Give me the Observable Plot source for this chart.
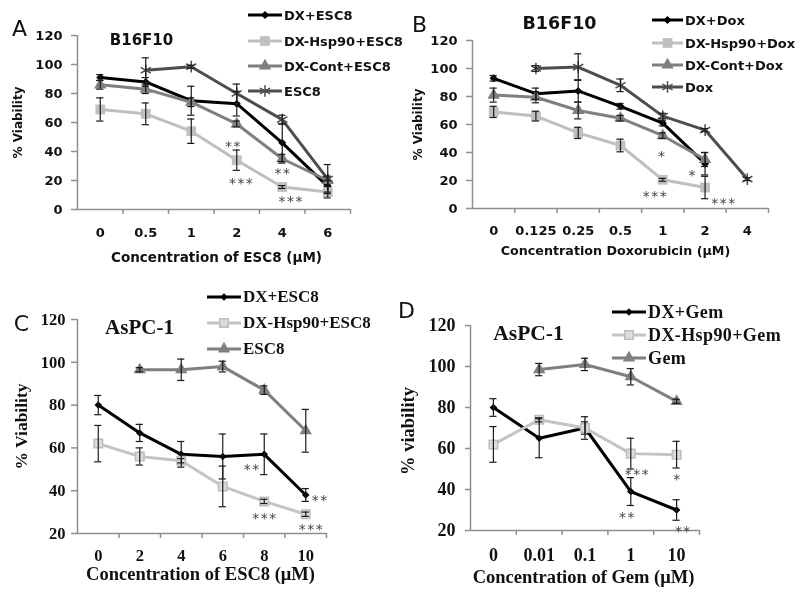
<!DOCTYPE html>
<html><head><meta charset="utf-8">
<script src="https://cdn.jsdelivr.net/npm/d3@7"></script>
<script src="https://cdn.jsdelivr.net/npm/@observablehq/plot@0.6"></script>
<style>
body{margin:0;background:#fff;}
#fig{position:relative;width:800px;height:598px;overflow:hidden;background:#fff;}
.leg{position:absolute;display:flex;align-items:center;white-space:nowrap;color:#111;height:20px;}
.leg svg{display:block;}
</style></head><body><div id="fig"></div>
<script>
// ---------- Panel A : B16F10, ESC8 ----------
const catsA = ["0","0.5","1","2","4","6"];
const dxEsc8A = [91, 88, 75, 73, 46, 16];
const dxEsc8ErrA = [2, 3, 10, 8.5, 13, 4];
const hspEsc8A = [69, 66, 54, 34, 15.5, 12];
const hspEsc8ErrA = [8, 7.5, 8.4, 7, 1, 4];
const contEsc8A = [86, 83, 74, 59, 35, 20];
const contEsc8ErrA = [3, 3, 3, 2, 3, 3];
const esc8A = [null, 96, 98.5, 80, 62, 21];
const esc8ErrA = [null, 8.6, 1, 6.5, 3, 10];
const starsA = [{x:"2", off:-0.09, y:46, t:"**"}, {x:"2", off:0.09, y:21, t:"***"},
                {x:"4", off:0, y:27.6, t:"**"}, {x:"4", off:0.18, y:8.3, t:"***"}];

// ---------- Panel B : B16F10, Doxorubicin ----------
const catsB = ["0","0.125","0.25","0.5","1","2","4"];
const dxDoxB = [93, 82, 84, 73, 61, 32, null];
const dxDoxErrB = [2, 4, 8, 2, 2, 8, null];
const hspDoxB = [69, 66, 54, 45, 20.5, 15, null];
const hspDoxErrB = [4, 3.5, 4, 4.5, 1, 8, null];
const contDoxB = [81, 79.5, 70, 64.5, 52, 35, null];
const contDoxErrB = [5, 4, 6, 2, 2, 5, null];
const doxB = [null, 100, 101, 88, 66, 56, 21];
const doxErrB = [null, 2, 9.5, 4.5, 2, 1, 1];
const starsB = [{x:"1", off:-0.03, y:40, t:"*"}, {x:"1", off:-0.19, y:11.6, t:"***"},
                {x:"2", off:-0.31, y:26.4, t:"*"}, {x:"2", off:0.43, y:6.4, t:"***"}];

// ---------- Panel C : AsPC-1, ESC8 ----------
const catsC = ["0","2","4","6","8","10"];
const dxEsc8C = [80, 67, 57, 56, 57, 38];
const dxEsc8ErrC = [4.5, 4, 6, 10.5, 9.5, 3];
const hspEsc8C = [62, 56, 54, 42, 35, 29];
const hspEsc8ErrC = [8.5, 4, 1, 9.5, 1, 1];
const esc8C = [null, 96.5, 96.5, 98, 87, 68];
const esc8ErrC = [null, 1, 5, 2.5, 2, 10];
const starsC = [{x:"8", off:-0.31, y:52, t:"**"}, {x:"8", off:0, y:28.7, t:"***"},
                {x:"10", off:0.33, y:37.3, t:"**"}, {x:"10", off:0.12, y:23.6, t:"***"}];

// ---------- Panel D : AsPC-1, Gem ----------
const catsD = ["0","0.01","0.1","1","10"];
const dxGemD = [80, 65, 70, 39, 30];
const dxGemErrD = [4.3, 9.5, 5.5, 6.8, 5];
const hspGemD = [62, 74, 70, 57.5, 57];
const hspGemErrD = [8.7, 1, 3, 7.5, 6.5];
const gemD = [null, 98.5, 101, 95, 83];
const gemErrD = [null, 3, 3, 4, 1];
const starsD = [{x:"1", off:0.13, y:49.3, t:"***"}, {x:"1", off:-0.09, y:28.3, t:"**"},
                {x:"10", off:0, y:46.8, t:"*"}, {x:"10", off:0.13, y:21.6, t:"**"}];

const ticksAB = [0,20,40,60,80,100,120];
const ticksCD = [20,40,60,80,100,120];

const AXIS = "#8f8f8f";
const SANS = "DejaVu Sans";
const SERIF = "Liberation Serif";
const STARFONT = "DejaVu Sans Mono";
const fig = document.getElementById("fig");
const symMap = {diamond2: d3.symbolDiamond2, square: d3.symbolSquare, triangle: d3.symbolTriangle, asterisk: d3.symbolAsterisk};

function makePanel(p) {
  const n = p.cats.length;
  const rows = [];
  p.series.forEach(s => s.values.forEach((v, i) => {
    if (v != null) rows.push({s: s.name, x: i + 0.5, y: v, e: s.errors[i]});
  }));
  const plotW = p.width - p.ml - p.mr;
  const cw = 3.6 / (plotW / n);
  const marks = [
    Plot.ruleX([0], {stroke: AXIS, strokeWidth: 1.5}),
    Plot.ruleY([p.yDomain[0]], {stroke: AXIS, strokeWidth: 1.5}),
    Plot.axisY({ticks: p.yTicks, tickSize: p.yTickSize, tickPadding: p.yTickPad, stroke: AXIS, strokeWidth: 1.5,
                fill: "#111", fontSize: p.tickFont, fontFamily: p.font, fontWeight: "bold", label: null, tickFormat: d => String(d)}),
    Plot.axisX({ticks: d3.range(1, n + 1), tickSize: 5, stroke: AXIS, strokeWidth: 1.5, tickFormat: () => "", label: null}),
    Plot.text(p.cats, {x: (d, i) => i + 0.5, text: d => d, frameAnchor: "bottom", dy: p.xLabDy, lineAnchor: "middle",
                       fontSize: p.tickFont, fontFamily: p.font, fontWeight: "bold", fill: "#111"}),
    Plot.text([p.xTitle], {frameAnchor: "bottom", dy: p.xTitleDy, dx: p.xTitleDx, lineAnchor: "middle", textAnchor: "middle",
                           fontSize: p.titleFont, fontFamily: p.font, fontWeight: "bold", fill: "#111"}),
    Plot.text([p.yTitle], {frameAnchor: "left", dx: p.yTitleDx, dy: p.yTitleDy || 0, rotate: -90, lineAnchor: "middle", textAnchor: "middle",
                           fontSize: p.yTitleFont, fontFamily: p.font, fontWeight: "bold", fill: "#111"}),
    Plot.text([p.cell], {frameAnchor: "top-left", dx: p.cellDx, dy: p.cellDy, textAnchor: "middle", lineAnchor: "middle",
                         fontSize: p.cellFont, fontFamily: p.font, fontWeight: "bold", fill: "#111"}),
    Plot.text([p.letter], {frameAnchor: "top-left", dx: p.letterDx, dy: p.letterDy, textAnchor: "middle", lineAnchor: "middle",
                           fontSize: 22, fontFamily: SANS, fontWeight: "normal", fill: "#111"})
  ];
  p.series.forEach(s => {
    const d = rows.filter(r => r.s === s.name);
    marks.push(Plot.line(d, {x: "x", y: "y", stroke: s.color, strokeWidth: 3}));
    marks.push(Plot.dot(d, {x: "x", y: "y", symbol: s.symbol, r: s.r, fill: s.fill, stroke: s.mstroke || "none", strokeWidth: s.sw || 1}));
  });
  const eb = rows.filter(r => r.e != null && r.e > 0);
  marks.push(Plot.ruleX(eb, {x: "x", y1: d => d.y - d.e, y2: d => d.y + d.e, stroke: "#1a1a1a", strokeWidth: 1.2}));
  marks.push(Plot.ruleY(eb, {y: d => d.y + d.e, x1: d => d.x - cw, x2: d => d.x + cw, stroke: "#1a1a1a", strokeWidth: 1.2}));
  marks.push(Plot.ruleY(eb, {y: d => d.y - d.e, x1: d => d.x - cw, x2: d => d.x + cw, stroke: "#1a1a1a", strokeWidth: 1.2}));
  marks.push(Plot.text(p.stars, {x: d => p.cats.indexOf(d.x) + 0.5 + d.off, y: "y", text: "t", dy: 4,
                                 fontSize: p.starFont, fontFamily: STARFONT, fontWeight: "normal", fill: "#444", lineAnchor: "middle"}));
  const svg = Plot.plot({
    width: p.width, height: p.height,
    marginLeft: p.ml, marginRight: p.mr, marginTop: p.mt, marginBottom: p.mb,
    x: {domain: [0, n]},
    y: {domain: p.yDomain},
    style: {fontFamily: p.font, fontSize: p.tickFont + "px", color: "#111", background: "transparent", overflow: "visible"},
    marks
  });
  svg.style.position = "absolute";
  svg.style.left = p.left + "px";
  svg.style.top = p.top + "px";
  svg.style.willChange = "transform";
  fig.appendChild(svg);
}

function makeLegend(items, o) {
  items.forEach((it, i) => {
    const div = d3.select(fig).append("div").attr("class", "leg")
      .style("left", o.left + "px").style("top", (o.rows[i] - 10) + "px")
      .style("font-family", o.font).style("font-weight", "bold").style("font-size", o.size + "px")
      .style("letter-spacing", (o.ls || 0) + "px");
    const svg = div.append("svg").attr("width", o.sw).attr("height", 20);
    svg.append("line").attr("x1", 0).attr("x2", o.sw).attr("y1", 10).attr("y2", 10)
      .attr("stroke", it.color).attr("stroke-width", 3);
    svg.append("path").attr("transform", `translate(${o.sw / 2},10)`)
      .attr("d", d3.symbol(symMap[it.symbol], Math.PI * it.r * it.r)())
      .attr("fill", it.fill).attr("stroke", it.mstroke || "none").attr("stroke-width", it.sw || 1);
    div.append("span").text(it.name).style("margin-left", "2px");
  });
}

// Series styling
const seriesA = [
  {name: "DX+ESC8", values: dxEsc8A, errors: dxEsc8ErrA, color: "#000", symbol: "diamond2", r: 3.6, fill: "#000"},
  {name: "DX-Hsp90+ESC8", values: hspEsc8A, errors: hspEsc8ErrA, color: "#bfbfbf", symbol: "square", r: 5.5, fill: "#bfbfbf"},
  {name: "DX-Cont+ESC8", values: contEsc8A, errors: contEsc8ErrA, color: "#7f7f7f", symbol: "triangle", r: 4.6, fill: "#7f7f7f"},
  {name: "ESC8", values: esc8A, errors: esc8ErrA, color: "#4d4d4d", symbol: "asterisk", r: 5.5, fill: "none", mstroke: "#4d4d4d", sw: 1.5}
];
const seriesB = [
  {name: "DX+Dox", values: dxDoxB, errors: dxDoxErrB, color: "#000", symbol: "diamond2", r: 3.6, fill: "#000"},
  {name: "DX-Hsp90+Dox", values: hspDoxB, errors: hspDoxErrB, color: "#bfbfbf", symbol: "square", r: 5.5, fill: "#bfbfbf"},
  {name: "DX-Cont+Dox", values: contDoxB, errors: contDoxErrB, color: "#7f7f7f", symbol: "triangle", r: 4.6, fill: "#7f7f7f"},
  {name: "Dox", values: doxB, errors: doxErrB, color: "#4d4d4d", symbol: "asterisk", r: 5.5, fill: "none", mstroke: "#4d4d4d", sw: 1.5}
];
const seriesC = [
  {name: "DX+ESC8", values: dxEsc8C, errors: dxEsc8ErrC, color: "#000", symbol: "diamond2", r: 3.4, fill: "#000"},
  {name: "DX-Hsp90+ESC8", values: hspEsc8C, errors: hspEsc8ErrC, color: "#c4c4c4", symbol: "square", r: 4.8, fill: "#dcdcdc", mstroke: "#bdbdbd", sw: 1.5},
  {name: "ESC8", values: esc8C, errors: esc8ErrC, color: "#7f7f7f", symbol: "triangle", r: 4.6, fill: "#7f7f7f"}
];
const seriesD = [
  {name: "DX+Gem", values: dxGemD, errors: dxGemErrD, color: "#000", symbol: "diamond2", r: 3.4, fill: "#000"},
  {name: "DX-Hsp90+Gem", values: hspGemD, errors: hspGemErrD, color: "#c4c4c4", symbol: "square", r: 4.8, fill: "#dcdcdc", mstroke: "#bdbdbd", sw: 1.5},
  {name: "Gem", values: gemD, errors: gemErrD, color: "#7f7f7f", symbol: "triangle", r: 4.6, fill: "#7f7f7f"}
];

makePanel({cats: catsA, series: seriesA, stars: starsA, yDomain: [0, 120], yTicks: ticksAB,
  left: 0, top: 0, width: 400, height: 300, ml: 77, mr: 50, mt: 35, mb: 91,
  font: SANS, tickFont: 13, titleFont: 13.5, yTitleFont: 12, cellFont: 15, starFont: 14,
  yTickSize: 6, yTickPad: 9, xLabDy: 23, xTitleDy: 48, xTitleDx: 2.5, yTitleDx: -59,
  xTitle: "Concentration of ESC8 (μM)", yTitle: "% Viability", cell: "B16F10", cellDx: 64, cellDy: 5,
  letter: "A", letterDx: -58, letterDy: -7});
makePanel({cats: catsB, series: seriesB, stars: starsB, yDomain: [0, 120], yTicks: ticksAB,
  left: 400, top: 0, width: 400, height: 300, ml: 72, mr: 32, mt: 40, mb: 92,
  font: SANS, tickFont: 13, titleFont: 12.7, yTitleFont: 12, cellFont: 17.5, starFont: 14,
  yTickSize: 6, yTickPad: 9, xLabDy: 22, xTitleDy: 42, xTitleDx: -5, yTitleDx: -54,
  xTitle: "Concentration Doxorubicin (μM)", yTitle: "% Viability", cell: "B16F10", cellDx: 87, cellDy: -17,
  letter: "B", letterDx: -53, letterDy: -16});
makePanel({cats: catsC, series: seriesC, stars: starsC, yDomain: [20, 120], yTicks: ticksCD,
  left: 0, top: 298, width: 400, height: 300, ml: 77, mr: 74, mt: 21, mb: 65,
  font: SERIF, tickFont: 16.5, titleFont: 18.5, yTitleFont: 17.5, cellFont: 21, starFont: 14,
  yTickSize: 6, yTickPad: 6, xLabDy: 22, xTitleDy: 41, xTitleDx: -1.5, yTitleDx: -56,
  xTitle: "Concentration of ESC8 (μM)", yTitle: "% Viability", cell: "AsPC-1", cellDx: 62, cellDy: 8,
  letter: "C", letterDx: -56, letterDy: 4});
makePanel({cats: catsD, series: seriesD, stars: starsD, yDomain: [20, 120], yTicks: ticksCD,
  left: 400, top: 298, width: 400, height: 300, ml: 70, mr: 101, mt: 27, mb: 68,
  font: SERIF, tickFont: 18, titleFont: 18.5, yTitleFont: 18.5, cellFont: 21.5, starFont: 14,
  yTickSize: 5, yTickPad: 10, xLabDy: 25, xTitleDy: 47, xTitleDx: -1.5, yTitleDx: -62, yTitleDy: 3,
  xTitle: "Concentration of Gem (μM)", yTitle: "% viability", cell: "AsPC-1", cellDx: 58, cellDy: 8,
  letter: "D", letterDx: -64, letterDy: -15});

makeLegend(seriesA, {left: 248, rows: [15, 41, 66, 91], font: SANS, size: 13, sw: 34});
makeLegend(seriesB, {left: 652, rows: [20, 43, 65, 87], font: SANS, size: 13, sw: 31});
makeLegend(seriesC, {left: 207, rows: [297, 323, 348.5], font: SERIF, size: 17, sw: 34});
makeLegend(seriesD, {left: 612, rows: [312, 335, 358], font: SERIF, size: 18, sw: 34, ls: 0.4});
</script></body></html>
